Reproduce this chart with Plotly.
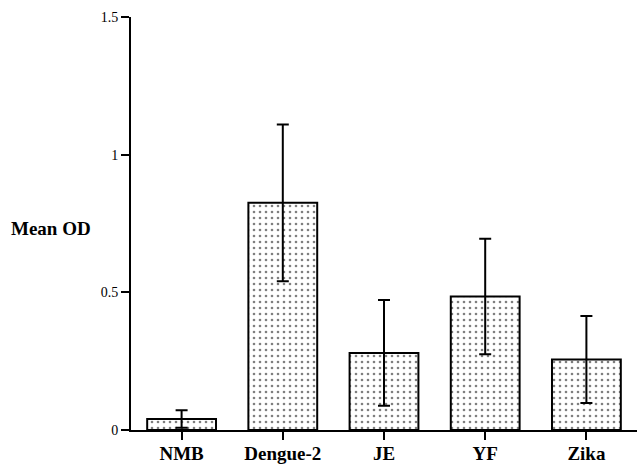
import plotly.graph_objects as go

categories = ["NMB", "Dengue-2", "JE", "YF", "Zika"]
mean_od = [0.04, 0.825, 0.28, 0.485, 0.256]
err_od = [0.032, 0.285, 0.192, 0.21, 0.158]
y_ticks = [0, 0.5, 1, 1.5]
y_tick_labels = ["0", "0.5", "1", "1.5"]

SERIF = "Liberation Serif, Times New Roman, serif"

fig = go.Figure()
fig.add_trace(go.Bar(
    x=categories,
    y=mean_od,
    width=0.68,
    marker=dict(
        color="white",
        line=dict(color="black", width=2),
        pattern=dict(shape=".", fgcolor="black", bgcolor="white", size=6, solidity=0.15),
    ),
    error_y=dict(type="data", array=err_od, visible=True, color="black", thickness=2, width=6),
    showlegend=False,
))

fig.update_layout(
    width=637, height=464,
    margin=dict(l=131, r=0, t=17, b=34, autoexpand=False),
    plot_bgcolor="white", paper_bgcolor="white",
    font=dict(family=SERIF, color="black"),
    xaxis=dict(
        range=[-0.5, 4.5],
        automargin=False,
        tickmode="array",
        tickvals=categories,
        ticktext=["<b>" + c + "</b>" for c in categories],
        tickfont=dict(family=SERIF, size=19, color="black"),
        ticks="outside", ticklen=8, tickwidth=2, tickcolor="black",
        ticklabelstandoff=-3,
        showline=True, linewidth=2, linecolor="black",
        showgrid=False, zeroline=False,
    ),
    yaxis=dict(
        range=[0, 1.5],
        automargin=False,
        tickmode="array",
        tickvals=y_ticks,
        ticktext=y_tick_labels,
        tickfont=dict(family=SERIF, size=14, color="black"),
        ticks="outside", ticklen=8, tickwidth=2, tickcolor="black",
        showline=True, linewidth=2, linecolor="black",
        showgrid=False, zeroline=False,
    ),
    annotations=[dict(
        text="<b>Mean OD</b>",
        xref="paper", yref="paper",
        x=-0.241, y=0.487, xanchor="left", yanchor="middle",
        showarrow=False,
        font=dict(family=SERIF, size=19, color="black"),
    )],
)

fig.write_html(
    "out.html",
    config={"displayModeBar": False},
    post_script="document.body.style.margin='0';document.body.style.padding='0';",
)
